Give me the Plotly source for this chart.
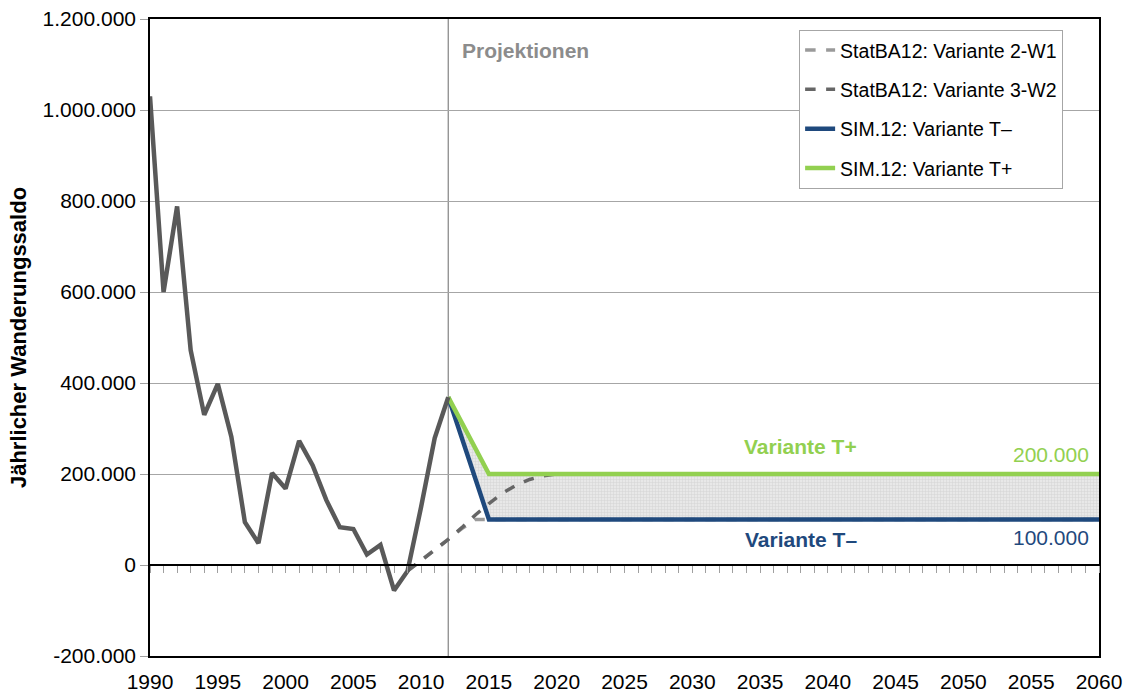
import plotly.graph_objects as go

# ---------------- data ----------------
hist_years = list(range(1990, 2013))
hist_values = [1030000, 600000, 788000, 472000, 330000, 398000, 282000, 94000, 48000,
               202000, 168000, 273000, 219000, 143000, 83000, 79000, 23000, 44000,
               -56000, -13000, 128000, 279000, 369000]

w1_years = [2009, 2010, 2011, 2012, 2013, 2014, 2060]
w1_values = [-13000, 10000, 33000, 56000, 80000, 100000, 100000]

w2_years = [2009, 2010, 2011, 2012, 2013, 2014, 2015, 2016, 2017, 2018, 2019, 2020, 2060]
w2_values = [-13000, 10000, 33000, 56000, 82000, 110000, 135000, 158000, 175000,
             188000, 196000, 200000, 200000]

tminus_years = [2012, 2015, 2060]
tminus_values = [369000, 100000, 100000]

tplus_years = [2012, 2015, 2060]
tplus_values = [369000, 200000, 200000]

projection_start = 2012
x_ticks = list(range(1990, 2061, 5))
y_ticks = list(range(-200000, 1200001, 200000))
y_ticktext = [f"{v:,}".replace(",", ".") for v in y_ticks]

FONT = "Liberation Sans, Arial, sans-serif"
GREEN = "#92D050"
BLUE = "#1F497D"

fig = go.Figure()

# shaded corridor between T- and T+ (fill only)
fig.add_trace(go.Scatter(x=tminus_years, y=tminus_values, mode="lines",
                         line=dict(width=0, color=BLUE), showlegend=False, hoverinfo="skip"))
fig.add_trace(go.Scatter(x=tplus_years, y=tplus_values, mode="lines",
                         line=dict(width=0, color=GREEN), showlegend=False, hoverinfo="skip",
                         fill="tonexty", fillcolor="rgba(225,225,225,0.9)",
                         fillpattern=dict(shape="+", size=3, solidity=0.28,
                                          fgcolor="#bdbdbd", bgcolor="#e8e8e8")))

fig.add_trace(go.Scatter(x=w1_years, y=w1_values, mode="lines", name="StatBA12: Variante 2-W1",
                         legendgroup="a",
                         line=dict(color="#9a9a9a", width=3.5, dash="dash")))
fig.add_trace(go.Scatter(x=w2_years, y=w2_values, mode="lines", name="StatBA12: Variante 3-W2",
                         legendgroup="b",
                         line=dict(color="#666666", width=3.5, dash="dash")))
fig.add_trace(go.Scatter(x=tminus_years, y=tminus_values, mode="lines", name="SIM.12: Variante T\u2013",
                         legendgroup="c",
                         line=dict(color=BLUE, width=4.5)))
fig.add_trace(go.Scatter(x=tplus_years, y=tplus_values, mode="lines", name="SIM.12: Variante T+",
                         legendgroup="d",
                         line=dict(color=GREEN, width=4.5)))
fig.add_trace(go.Scatter(x=hist_years, y=hist_values, mode="lines",
                         line=dict(color="#595959", width=4.5), showlegend=False,
                         hoverinfo="skip"))
# helper trace for the zero-line axis with yearly ticks
fig.add_trace(go.Scatter(x=[x_ticks[0]], y=[0], xaxis="x2", mode="markers",
                         marker=dict(opacity=0), showlegend=False, hoverinfo="skip"))

fig.add_vline(x=projection_start, line=dict(color="#8c8c8c", width=1.3), layer="below")

fig.update_layout(
    width=1127, height=693,
    margin=dict(l=150, r=28, t=19, b=37),
    paper_bgcolor="white", plot_bgcolor="white",
    font=dict(family=FONT, size=20, color="black"),
    xaxis=dict(range=[1990, 2060], tickvals=x_ticks, showgrid=False, zeroline=False,
               showline=True, linecolor="black", linewidth=1.5, mirror=True,
               ticks="", tickfont=dict(size=21), automargin=False,
               ticklabeloverflow="allow", ticklabelstandoff=6),
    xaxis2=dict(range=[1990, 2060], overlaying="x", anchor="free", position=1 / 7,
                showgrid=False, zeroline=False, showline=True, linecolor="black",
                linewidth=1.5, ticks="outside", dtick=1, tick0=1990, ticklen=7,
                tickcolor="#a0a0a0", tickwidth=1, showticklabels=False, automargin=False),
    yaxis=dict(range=[-200000, 1200000], tickvals=y_ticks, ticktext=y_ticktext,
               showgrid=True, gridcolor="#a6a6a6", gridwidth=1, zeroline=False,
               showline=True, linecolor="black", linewidth=1.5, mirror=True,
               ticks="outside", ticklen=8, tickcolor="#a0a0a0",
               tickfont=dict(size=21), automargin=False, ticklabeloverflow="allow",
               title=dict(text="<b>Jährlicher Wanderungssaldo</b>", font=dict(size=22),
                          standoff=10)),
    legend=dict(x=0.684, y=0.983, xanchor="left", yanchor="top",
                bordercolor="#a6a6a6", borderwidth=1, bgcolor="white",
                font=dict(size=19.5), tracegroupgap=11, traceorder="grouped"),
    showlegend=True,
)

fig.add_annotation(x=projection_start, y=y_ticks[-1], xref="x", yref="y",
                   text="<b>Projektionen</b>", showarrow=False, xanchor="left",
                   yanchor="top", xshift=12, yshift=-18,
                   font=dict(size=21, color="#8c8c8c"))
fig.add_annotation(x=2038, y=tplus_values[-1], text="<b>Variante T+</b>", showarrow=False,
                   xanchor="center", yanchor="middle", yshift=28,
                   font=dict(size=21, color=GREEN))
fig.add_annotation(x=2038, y=tminus_values[-1], text="<b>Variante T\u2013</b>", showarrow=False,
                   xanchor="center", yanchor="middle", yshift=-20,
                   font=dict(size=21, color=BLUE))
fig.add_annotation(x=tplus_years[-1], y=tplus_values[-1],
                   text=f"{tplus_values[-1]:,}".replace(",", "."), showarrow=False,
                   xanchor="right", yanchor="middle", xshift=-8, yshift=20,
                   font=dict(size=21, color=GREEN))
fig.add_annotation(x=tminus_years[-1], y=tminus_values[-1],
                   text=f"{tminus_values[-1]:,}".replace(",", "."), showarrow=False,
                   xanchor="right", yanchor="middle", xshift=-8, yshift=-18,
                   font=dict(size=21, color=BLUE))

# remove the browser's default 8px body margin so the figure fills the window exactly
fig.write_html("out.html", config={"displayModeBar": False},
               post_script="document.body.style.margin='0';document.body.style.overflow='hidden';")
